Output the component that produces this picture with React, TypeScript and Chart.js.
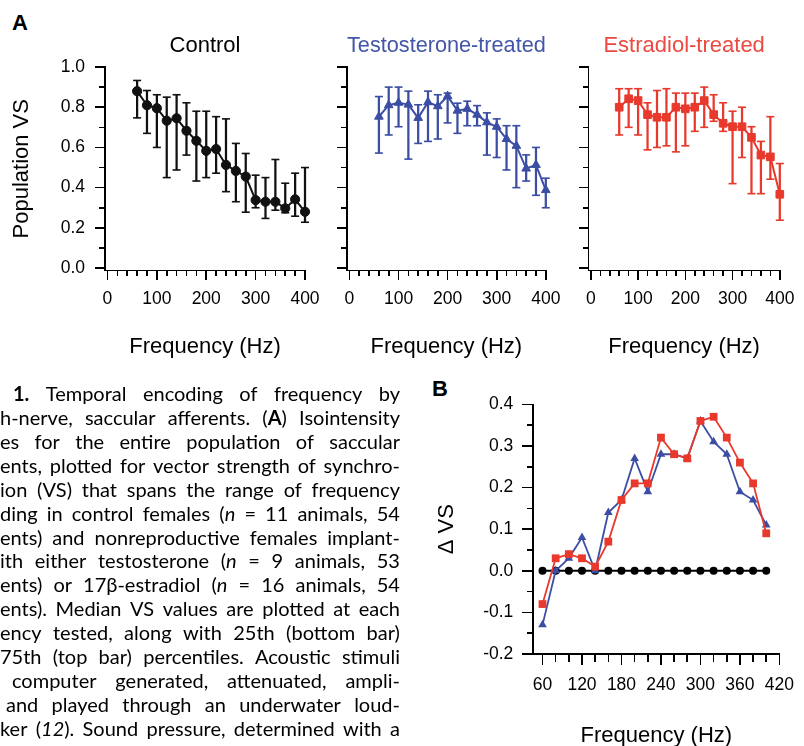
import React, { useEffect, useRef, useState } from "react";
import { Chart, registerables } from "chart.js";

Chart.register(...registerables);

// ---------------- data ----------------
const FREQ_HZ = [60, 80, 100, 120, 140, 160, 180, 200, 220, 240, 260, 280, 300, 320, 340, 360, 380, 400];

const CONTROL_MEDIAN = [0.88, 0.81, 0.795, 0.733, 0.745, 0.683, 0.633, 0.583, 0.592, 0.513, 0.483, 0.455, 0.338, 0.33, 0.33, 0.297, 0.342, 0.28];
const CONTROL_P75 = [0.933, 0.883, 0.862, 0.85, 0.862, 0.822, 0.78, 0.78, 0.753, 0.742, 0.62, 0.57, 0.462, 0.45, 0.54, 0.422, 0.472, 0.5];
const CONTROL_P25 = [0.747, 0.67, 0.6, 0.45, 0.488, 0.562, 0.433, 0.45, 0.472, 0.38, 0.33, 0.278, 0.3, 0.247, 0.288, 0.275, 0.258, 0.228];

const TESTO_MEDIAN = [0.753, 0.81, 0.822, 0.813, 0.747, 0.825, 0.805, 0.855, 0.783, 0.792, 0.763, 0.725, 0.703, 0.642, 0.608, 0.495, 0.513, 0.388];
const TESTO_P75 = [0.853, 0.9, 0.9, 0.88, 0.812, 0.88, 0.862, 0.87, 0.82, 0.83, 0.808, 0.772, 0.742, 0.708, 0.708, 0.563, 0.6, 0.447];
const TESTO_P25 = [0.572, 0.662, 0.703, 0.542, 0.62, 0.63, 0.642, 0.722, 0.67, 0.708, 0.708, 0.562, 0.55, 0.488, 0.4, 0.433, 0.362, 0.3];

const ESTRA_MEDIAN = [0.8, 0.842, 0.833, 0.763, 0.75, 0.75, 0.8, 0.792, 0.8, 0.833, 0.763, 0.72, 0.703, 0.703, 0.65, 0.562, 0.553, 0.367];
const ESTRA_P75 = [0.892, 0.892, 0.892, 0.822, 0.883, 0.892, 0.87, 0.87, 0.87, 0.9, 0.862, 0.822, 0.78, 0.8, 0.703, 0.63, 0.753, 0.52];
const ESTRA_P25 = [0.662, 0.7, 0.662, 0.588, 0.6, 0.608, 0.578, 0.608, 0.68, 0.7, 0.73, 0.68, 0.42, 0.55, 0.37, 0.37, 0.442, 0.238];

const DELTA_TESTO = [-0.13, 0.0, 0.03, 0.08, 0.0, 0.14, 0.17, 0.27, 0.19, 0.28, 0.28, 0.27, 0.36, 0.31, 0.28, 0.19, 0.17, 0.11];
const DELTA_ESTRA = [-0.08, 0.03, 0.04, 0.03, 0.01, 0.07, 0.17, 0.21, 0.21, 0.32, 0.28, 0.27, 0.36, 0.37, 0.32, 0.26, 0.21, 0.09];
const DELTA_CONTROL = [0, 0, 0, 0, 0, 0, 0, 0, 0, 0, 0, 0, 0, 0, 0, 0, 0, 0];

// tick values
const A_X_MAJOR = [0, 100, 200, 300, 400];
const A_X_MINOR = [0, 20, 40, 60, 80, 100, 120, 140, 160, 180, 200, 220, 240, 260, 280, 300, 320, 340, 360, 380, 400];
const A_Y_MAJOR = [0, 0.2, 0.4, 0.6, 0.8, 1.0];
const A_Y_MINOR = [0, 0.1, 0.2, 0.3, 0.4, 0.5, 0.6, 0.7, 0.8, 0.9, 1.0];
const B_X_MAJOR = [60, 120, 180, 240, 300, 360, 420];
const B_X_MINOR = [60, 80, 100, 120, 140, 160, 180, 200, 220, 240, 260, 280, 300, 320, 340, 360, 380, 400, 420];
const B_Y_MAJOR = [-0.2, -0.1, 0, 0.1, 0.2, 0.3, 0.4];
const B_Y_MINOR = [-0.2, -0.15, -0.1, -0.05, 0, 0.05, 0.1, 0.15, 0.2, 0.25, 0.3, 0.35, 0.4];

const CAPTION_LINES = [
  "**1.** Temporal encoding of frequency by",
  "h-nerve, saccular afferents. (**A**) Isointensity",
  "es for the entire population of saccular",
  "ents, plotted for vector strength of synchro-",
  "ion (VS) that spans the range of frequency",
  "ding in control females (_n_ = 11 animals, 54",
  "ents) and nonreproductive females implant-",
  "ith either testosterone (_n_ = 9 animals, 53",
  "ents) or 17β-estradiol (_n_ = 16 animals, 54",
  "ents). Median VS values are plotted at each",
  "ency tested, along with 25th (bottom bar)",
  "75th (top bar) percentiles. Acoustic stimuli",
  "computer generated, attenuated, ampli-",
  "and played through an underwater loud-",
  "ker (_12_). Sound pressure, determined with a",
];

// ---------------- styling / layout ----------------
const FONT = "'Liberation Sans', Arial, Helvetica, sans-serif";
const BLACK = "#000000";
const BLUE = "#3b4ea3";
const RED = "#e8392c";
const BLUE_TITLE = "#4356a8";
const RED_TITLE = "#ea4a40";
const CAPTION_STARTS = [13, 0, 0, 0, 0, 0, 0, 0, 0, 0, 0, 0, 12, 6, 0];
const TICK_FONT_SIZE = 17.5;
const TITLE_FONT_SIZE = 22;
const AXIS_WIDTH = 1.8;
const TICK_WIDTH = 1.6;

function fixSize(dim: "width" | "height", size: number) {
  return (s: any) => {
    s[dim] = size;
  };
}
function setTicks(values: number[]) {
  return (s: any) => {
    s.ticks = values.map((v) => ({ value: v }));
  };
}

type Seg = { x: number; y: number; w: number; h: number };

// Axis lines and tick marks, placed from the chart's own scales.
function axisSegments(chart: any): Seg[] {
  const segs: Seg[] = [];
  for (const id of ["x", "xMinor", "y", "yMinor"]) {
    const s = chart.scales[id];
    if (!s) continue;
    const len = s.options.grid.tickLength;
    for (const t of s.ticks) {
      const p = s.getPixelForValue(t.value);
      if (s.isHorizontal()) {
        segs.push({ x: p - TICK_WIDTH / 2, y: s.top, w: TICK_WIDTH, h: len });
      } else {
        segs.push({ x: s.right - len, y: p - TICK_WIDTH / 2, w: len, h: TICK_WIDTH });
      }
    }
  }
  const x = chart.scales.x;
  const y = chart.scales.y;
  segs.push({ x: x.left - AXIS_WIDTH / 2, y: x.top - AXIS_WIDTH / 2, w: x.right - x.left + AXIS_WIDTH / 2 + TICK_WIDTH / 2, h: AXIS_WIDTH });
  segs.push({ x: y.right - AXIS_WIDTH / 2, y: y.top - TICK_WIDTH / 2, w: AXIS_WIDTH, h: y.bottom - y.top + TICK_WIDTH / 2 });
  return segs;
}

type Box = { l: number; t: number; w: number; h: number };
type Area = { l: number; t: number; r: number; b: number };

function gridOpts(len: number) {
  return { display: true, drawOnChartArea: false, tickLength: len, tickColor: "rgba(0,0,0,0)", color: "rgba(0,0,0,0)" };
}

function axes(o: {
  canvas: Box;
  area: Area;
  xMin: number; xMax: number; yMin: number; yMax: number;
  xMajor: number[]; xMinor: number[]; yMajor: number[]; yMinor: number[];
  xTickLen: [number, number]; yTickLen: [number, number];
  xPad: number; yPad: number;
  showY: boolean; yTitle: string; yTitlePad: number;
  xTitle: string; xTitlePad: number;
}) {
  const yWidth = o.area.l - o.canvas.l;
  const xHeight = o.canvas.t + o.canvas.h - o.area.b;
  const tickFont = { family: FONT, size: TICK_FONT_SIZE };
  const titleFont = { family: FONT, size: TITLE_FONT_SIZE };
  return {
    x: {
      type: "linear", axis: "x", position: "bottom", weight: 1, display: true,
      min: o.xMin, max: o.xMax, offset: false,
      afterBuildTicks: setTicks(o.xMajor),
      afterFit: fixSize("height", xHeight),
      ticks: { color: BLACK, font: tickFont, padding: o.xPad, autoSkip: false, maxRotation: 0, callback: (v: any) => String(v) },
      grid: gridOpts(o.xTickLen[0]),
      border: { display: false },
      title: { display: true, text: o.xTitle, color: BLACK, font: titleFont, padding: { top: 0, bottom: o.xTitlePad } },
    },
    xMinor: {
      type: "linear", axis: "x", position: "bottom", weight: 0, display: true,
      min: o.xMin, max: o.xMax, offset: false,
      afterBuildTicks: setTicks(o.xMinor),
      afterFit: fixSize("height", 0),
      ticks: { display: false },
      grid: gridOpts(o.xTickLen[1]),
      border: { display: false },
    },
    y: {
      type: "linear", axis: "y", position: "left", weight: 1, display: true,
      min: o.yMin, max: o.yMax,
      afterBuildTicks: setTicks(o.yMajor),
      afterFit: fixSize("width", yWidth),
      ticks: { display: o.showY, color: BLACK, font: tickFont, padding: o.yPad, autoSkip: false, callback: (v: any) => Number(v).toFixed(1) },
      grid: gridOpts(o.yTickLen[0]),
      border: { display: false },
      title: { display: !!o.yTitle, text: o.yTitle, color: BLACK, font: titleFont, padding: { top: o.yTitlePad, bottom: 0 } },
    },
    yMinor: {
      type: "linear", axis: "y", position: "left", weight: 0, display: true,
      min: o.yMin, max: o.yMax,
      afterBuildTicks: setTicks(o.yMinor),
      afterFit: fixSize("width", 0),
      ticks: { display: false },
      grid: gridOpts(o.yTickLen[1]),
      border: { display: false },
    },
  };
}

const TITLE_MID_Y = 46.3;

function panelA(o: {
  canvas: Box; area: Area; median: number[]; p25: number[]; p75: number[];
  color: string; pointStyle: string; pointRadius: number;
  title: string; titleColor: string; showY: boolean;
}) {
  const { canvas, area } = o;
  const lh = TITLE_FONT_SIZE * 1.2;
  const tpTop = TITLE_MID_Y - canvas.t - lh / 2;
  const tpBottom = area.t - canvas.t - tpTop - lh;
  const xTitleMid = 346.5;
  return {
    type: "line",
    data: {
      datasets: [
        {
          type: "line",
          data: FREQ_HZ.map((f, i) => ({ x: f, y: o.median[i] })),
          borderColor: o.color, backgroundColor: o.color, borderWidth: 2,
          pointStyle: o.pointStyle, pointRadius: o.pointRadius,
          pointBackgroundColor: o.color, pointBorderColor: o.color, pointBorderWidth: 1,
          xAxisID: "x", yAxisID: "y", clip: false,
        },
        {
          type: "line", showLine: false,
          data: FREQ_HZ.map((f, i) => ({ x: f, y: o.p75[i] })),
          borderColor: o.color, pointStyle: "line", pointRadius: 4,
          pointBorderColor: o.color, pointBorderWidth: 1.6,
          xAxisID: "x", yAxisID: "y", clip: false,
        },
        {
          type: "line", showLine: false,
          data: FREQ_HZ.map((f, i) => ({ x: f, y: o.p25[i] })),
          borderColor: o.color, pointStyle: "line", pointRadius: 4,
          pointBorderColor: o.color, pointBorderWidth: 1.6,
          xAxisID: "x", yAxisID: "y", clip: false,
        },
        {
          type: "bar",
          data: FREQ_HZ.map((f, i) => ({ x: f, y: [o.p25[i], o.p75[i]] })),
          backgroundColor: o.color, borderWidth: 0, barThickness: 1.6,
          xAxisID: "x", yAxisID: "y", clip: false,
        },
      ],
    },
    options: {
      responsive: false, animation: false, devicePixelRatio: 1,
      layout: { padding: { left: 0, top: 0, bottom: 0, right: canvas.l + canvas.w - area.r } },
      plugins: {
        legend: { display: false },
        tooltip: { enabled: false },
        title: {
          display: true, text: o.title, color: o.titleColor, fullSize: false,
          font: { family: FONT, size: TITLE_FONT_SIZE, weight: "normal" },
          padding: { top: tpTop, bottom: tpBottom },
        },
      },
      scales: axes({
        canvas, area,
        xMin: -5, xMax: 400, yMin: -0.012, yMax: 1.0,
        xMajor: A_X_MAJOR, xMinor: A_X_MINOR, yMajor: A_Y_MAJOR, yMinor: A_Y_MINOR,
        xTickLen: [9, 5], yTickLen: [10, 6],
        xPad: 9.6, yPad: 10,
        showY: o.showY, yTitle: o.showY ? "Population VS" : "", yTitlePad: 8.3,
        xTitle: "Frequency (Hz)", xTitlePad: canvas.t + canvas.h - xTitleMid - lh / 2,
      }),
    },
  };
}

function panelB() {
  const canvas = PANEL_B;
  const area = { l: 533.3, t: 404.3, r: 786.5, b: 654 };
  const lh = TITLE_FONT_SIZE * 1.2;
  return {
    type: "line",
    data: {
      datasets: [
        {
          data: FREQ_HZ.map((f, i) => ({ x: f, y: DELTA_ESTRA[i] })),
          borderColor: RED, backgroundColor: RED, borderWidth: 1.8,
          pointStyle: "rect", pointRadius: 5.5, pointBackgroundColor: RED, pointBorderColor: RED, pointBorderWidth: 0,
          xAxisID: "x", yAxisID: "y", clip: false,
        },
        {
          data: FREQ_HZ.map((f, i) => ({ x: f, y: DELTA_TESTO[i] })),
          borderColor: BLUE, backgroundColor: BLUE, borderWidth: 1.8,
          pointStyle: "triangle", pointRadius: 5, pointBackgroundColor: BLUE, pointBorderColor: BLUE, pointBorderWidth: 0,
          xAxisID: "x", yAxisID: "y", clip: false,
        },
        {
          data: FREQ_HZ.map((f, i) => ({ x: f, y: DELTA_CONTROL[i] })),
          borderColor: BLACK, backgroundColor: BLACK, borderWidth: 2,
          pointStyle: "circle", pointRadius: 4, pointBackgroundColor: BLACK, pointBorderColor: BLACK, pointBorderWidth: 0,
          xAxisID: "x", yAxisID: "y", clip: false,
        },
      ],
    },
    options: {
      responsive: false, animation: false, devicePixelRatio: 1,
      layout: { padding: { left: 0, top: area.t - canvas.t, bottom: 0, right: canvas.l + canvas.w - area.r } },
      plugins: { legend: { display: false }, tooltip: { enabled: false }, title: { display: false } },
      scales: axes({
        canvas, area,
        xMin: 46, xMax: 420, yMin: -0.2, yMax: 0.4,
        xMajor: B_X_MAJOR, xMinor: B_X_MINOR, yMajor: B_Y_MAJOR, yMinor: B_Y_MINOR,
        xTickLen: [10.7, 8], yTickLen: [11, 6.5],
        xPad: 10, yPad: 9,
        showY: true, yTitle: "\u0394 VS", yTitlePad: 447 - canvas.l - lh / 2,
        xTitle: "Frequency (Hz)", xTitlePad: canvas.t + canvas.h - 735.6 - lh / 2,
      }),
    },
  };
}

function ChartCanvas({ box, make }: { box: Box; make: () => any }) {
  const ref = useRef<HTMLCanvasElement>(null);
  const [segs, setSegs] = useState<Seg[]>([]);
  useEffect(() => {
    const chart = new Chart(ref.current as HTMLCanvasElement, make());
    setSegs(axisSegments(chart));
    return () => chart.destroy();
  }, []);
  return (
    <>
      <canvas
        ref={ref}
        width={box.w}
        height={box.h}
        style={{ position: "absolute", left: box.l, top: box.t, width: box.w, height: box.h }}
      />
      <div style={{ position: "absolute", left: box.l, top: box.t, width: box.w, height: box.h, pointerEvents: "none" }}>
        {segs.map((s, i) => (
          <div key={i} style={{ position: "absolute", left: s.x, top: s.y, width: s.w, height: s.h, background: BLACK }} />
        ))}
      </div>
    </>
  );
}

function renderToken(tok: string, key: number) {
  const parts = tok.split(/(\*\*[^*]+\*\*|_[^_]+_)/).filter((p) => p.length > 0);
  return (
    <span key={key} style={{ whiteSpace: "pre" }}>
      {parts.map((p, i) =>
        p.startsWith("**") ? (
          <b key={i}>{p.slice(2, -2)}</b>
        ) : p.length > 2 && p.startsWith("_") && p.endsWith("_") ? (
          <i key={i}>{p.slice(1, -1)}</i>
        ) : (
          <React.Fragment key={i}>{p}</React.Fragment>
        )
      )}
    </span>
  );
}

const PANEL_CONTROL = { l: 0, t: 10, w: 330, h: 360 };
const PANEL_TESTO = { l: 320, t: 10, w: 250, h: 360 };
const PANEL_ESTRA = { l: 560, t: 10, w: 244, h: 360 };
const PANEL_B = { l: 420, t: 380, w: 384, h: 372 };

export default function App() {
  const lineH = 23.93;
  return (
    <div
      style={{
        position: "fixed", left: 0, top: 0, width: 804, height: 746,
        background: "#ffffff", overflow: "hidden",
      }}
    >
      <div style={{ position: "absolute", left: 12, top: 11.5, font: `bold 22px/22px ${FONT}`, color: BLACK }}>A</div>
      <div style={{ position: "absolute", left: 432, top: 378.2, font: `bold 22px/22px ${FONT}`, color: BLACK }}>B</div>

      <ChartCanvas
        box={PANEL_CONTROL}
        make={() =>
          panelA({
            canvas: PANEL_CONTROL, area: { l: 105, t: 67, r: 305, b: 270.5 },
            median: CONTROL_MEDIAN, p25: CONTROL_P25, p75: CONTROL_P75,
            color: "#111111", pointStyle: "circle", pointRadius: 4.6,
            title: "Control", titleColor: BLACK, showY: true,
          })
        }
      />
      <ChartCanvas
        box={PANEL_TESTO}
        make={() =>
          panelA({
            canvas: PANEL_TESTO, area: { l: 347, t: 67, r: 547, b: 270.5 },
            median: TESTO_MEDIAN, p25: TESTO_P25, p75: TESTO_P75,
            color: BLUE, pointStyle: "triangle", pointRadius: 5,
            title: "Testosterone-treated", titleColor: BLUE_TITLE, showY: false,
          })
        }
      />
      <ChartCanvas
        box={PANEL_ESTRA}
        make={() =>
          panelA({
            canvas: PANEL_ESTRA, area: { l: 588.5, t: 67, r: 788.5, b: 270.5 },
            median: ESTRA_MEDIAN, p25: ESTRA_P25, p75: ESTRA_P75,
            color: RED, pointStyle: "rect", pointRadius: 5.4,
            title: "Estradiol-treated", titleColor: RED_TITLE, showY: false,
          })
        }
      />
      <ChartCanvas box={PANEL_B} make={panelB} />

      <div style={{ position: "absolute", left: 0, top: 382, width: 400, height: 364, overflow: "hidden", color: "#000000", font: `20px/${lineH}px Lato, 'Noto Sans', sans-serif` }}>
        {CAPTION_LINES.map((line, li) => (
          <div
            key={li}
            style={{
              display: "flex", justifyContent: "space-between", alignItems: "baseline",
              height: lineH, paddingLeft: CAPTION_STARTS[li], boxSizing: "border-box", width: 400,
              whiteSpace: "nowrap",
            }}
          >
            {line.split(" ").map((tok, ti) => renderToken(tok, ti))}
          </div>
        ))}
      </div>
    </div>
  );
}
